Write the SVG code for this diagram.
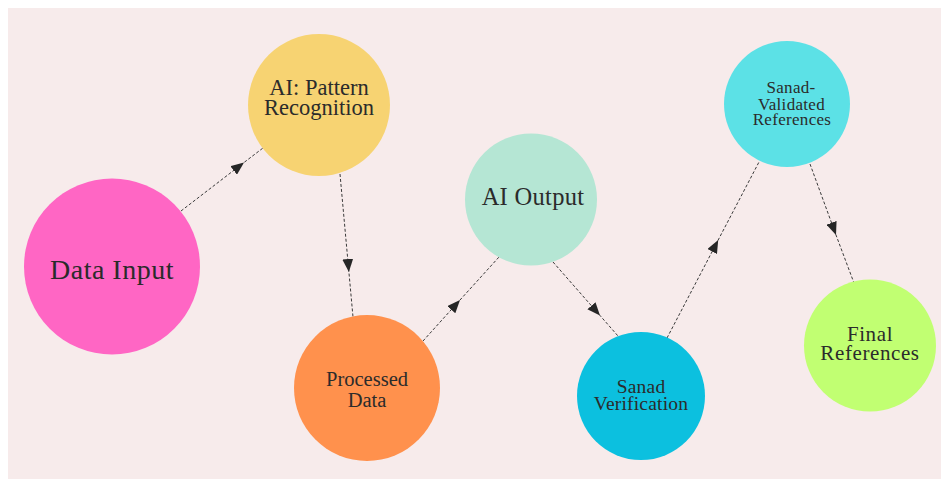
<svg xmlns="http://www.w3.org/2000/svg" width="941" height="479" viewBox="0 0 941 479">
<style>
.lbl{font-family:"Liberation Serif","Times New Roman",serif;fill:#2b2b2b;text-anchor:middle}
.conn{fill:none;stroke:#3a3a3a;stroke-width:1;stroke-dasharray:3 2;marker-mid:url(#ah)}
</style>
<defs>
<marker id="ah" markerUnits="userSpaceOnUse" markerWidth="13" markerHeight="11" refX="12" refY="5" orient="auto" viewBox="0 0 12 10">
<path d="M0,0 L12,5 L0,10 z" fill="#262626"/>
</marker>
</defs>
<rect width="941" height="479" fill="#ffffff"/>
<rect x="8" y="8" width="933" height="471" fill="#F7EBEB"/>
<g id="connectors">
<path class="conn" d="M181,211 L244,162.5 L263,148"/>
<path class="conn" d="M340,174 L348.9,272 L353,317"/>
<path class="conn" d="M423,341 L460,300 L499,257"/>
<path class="conn" d="M553,262 L600,315.5 L618,336"/>
<path class="conn" d="M667,338 L718.2,240 L759,162"/>
<path class="conn" d="M810,164 L836,235 L854,283"/>
</g>
<g id="data-input">
<circle cx="112" cy="266.5" r="88" fill="#FF66C4"/>
<text class="lbl" x="112" y="279" font-size="28" letter-spacing="0.5">Data Input</text>
</g>
<g id="ai-pattern">
<circle cx="319" cy="105" r="71" fill="#F7D372"/>
<text class="lbl" x="319" y="95" font-size="22.5">AI: Pattern</text>
<text class="lbl" x="319" y="115" font-size="22.5">Recognition</text>
</g>
<g id="processed-data">
<circle cx="367" cy="388" r="73" fill="#FF914D"/>
<text class="lbl" x="367" y="386" font-size="20.5">Processed</text>
<text class="lbl" x="367" y="406.5" font-size="20.5">Data</text>
</g>
<g id="ai-output">
<circle cx="531" cy="199.5" r="66" fill="#B5E6D4"/>
<text class="lbl" x="533" y="204.5" font-size="24.5" letter-spacing="0.3">AI Output</text>
</g>
<g id="sanad-verification">
<circle cx="641" cy="396" r="64" fill="#0CC0DF"/>
<text class="lbl" x="641" y="392.5" font-size="19.5" letter-spacing="0.2">Sanad</text>
<text class="lbl" x="641" y="410" font-size="19.5" letter-spacing="0.2">Verification</text>
</g>
<g id="sanad-validated">
<circle cx="787" cy="104" r="63" fill="#5CE1E6"/>
<text class="lbl" x="791" y="93.3" font-size="17" letter-spacing="0.3">Sanad-</text>
<text class="lbl" x="791.5" y="109.7" font-size="17" letter-spacing="0.3">Validated</text>
<text class="lbl" x="792" y="125" font-size="17" letter-spacing="0.3">References</text>
</g>
<g id="final-references">
<circle cx="870" cy="345.5" r="66" fill="#C1FF72"/>
<text class="lbl" x="870" y="341" font-size="21" letter-spacing="0.6">Final</text>
<text class="lbl" x="870" y="360" font-size="21" letter-spacing="0.6">References</text>
</g>
</svg>
